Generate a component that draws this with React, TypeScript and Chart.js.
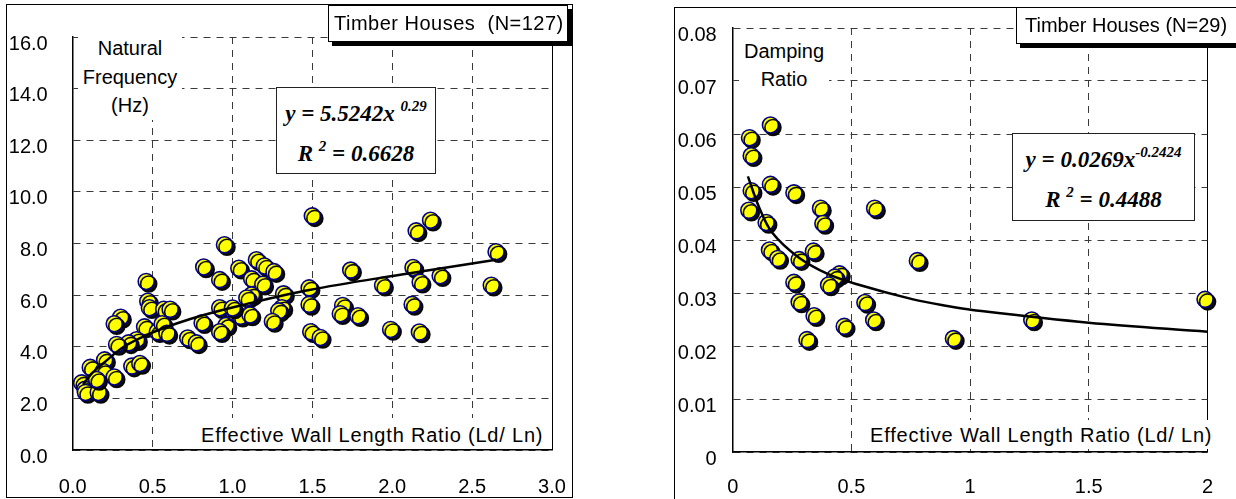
import React, { useEffect, useRef } from 'react';
import { Chart, registerables } from 'chart.js';

Chart.register(...registerables);

const SANS = "'Liberation Sans', Arial, sans-serif";
const SERIF = "'Liberation Serif', 'Times New Roman', serif";

// ---------- Left panel: natural frequency vs effective wall length ratio ----------
const freqX = [
  0.95, 0.82, 0.92, 1.04, 0.46, 0.47, 0.48, 0.57, 0.61, 0.30, 0.26, 0.45, 0.53, 0.56, 0.59, 0.40,
  0.35, 0.275, 0.72, 0.775, 0.81, 0.92, 0.96, 0.92, 1.01, 0.20, 0.11, 0.19, 0.26, 0.37, 0.42, 0.056,
  0.077, 0.08, 0.16, 0.15, 1.50, 1.15, 1.20, 1.26, 1.12, 1.19, 1.12, 1.09, 1.32, 1.31, 1.29, 1.25,
  1.05, 1.11, 1.00, 1.48, 1.48, 1.49, 1.55, 1.74, 1.69, 1.675, 1.785, 1.94, 1.99, 2.24, 2.15, 2.65,
  2.13, 2.30, 2.175, 2.62, 2.125, 2.17,
];
const freqY = [
  7.95, 7.09, 6.60, 7.04, 6.53, 5.76, 5.51, 5.45, 5.45, 5.14, 4.89, 4.77, 4.58, 4.89, 4.52, 4.27,
  4.15, 4.09, 4.34, 4.15, 4.93, 5.51, 4.83, 4.58, 5.33, 3.49, 3.20, 3.04, 2.83, 3.25, 3.35, 2.60,
  2.35, 2.23, 2.23, 2.73, 9.07, 7.37, 7.13, 6.91, 6.63, 6.42, 6.01, 5.89, 6.05, 5.51, 5.39, 4.98,
  5.18, 5.23, 5.50, 6.28, 5.64, 4.58, 4.36, 6.97, 5.60, 5.28, 5.20, 6.38, 4.67, 8.90, 8.49, 7.68,
  7.07, 6.75, 6.50, 6.38, 5.64, 4.57,
];
const freqTrendX = [0.066, 0.12, 0.19, 0.32, 0.48, 0.65, 0.82, 1.05, 1.48, 2.05, 2.65];
const freqTrendY = [2.54, 2.97, 3.35, 4.0, 4.5, 4.9, 5.23, 5.6, 6.2, 6.79, 7.37];
const freqXTickLabels = ['0.0', '0.5', '1.0', '1.5', '2.0', '2.5', '3.0'];
const freqYTickLabels = ['0.0', '2.0', '4.0', '6.0', '8.0', '10.0', '12.0', '14.0', '16.0'];

// ---------- Right panel: damping ratio vs effective wall length ratio ----------
const dampX = [
  0.159, 0.071, 0.078, 0.159, 0.078, 0.258, 0.068, 0.37, 0.38, 0.141, 0.598, 0.155, 0.19, 0.28, 0.34,
  0.45, 0.43, 0.404, 0.258, 0.28, 0.343, 0.313, 0.47, 0.557, 0.594, 0.778, 0.93, 1.26, 1.99,
];
const dampY = [
  0.0617, 0.0593, 0.0559, 0.0505, 0.0493, 0.0489, 0.0456, 0.046, 0.0431, 0.0433, 0.046, 0.0381, 0.0365,
  0.0363, 0.0379, 0.0336, 0.033, 0.0315, 0.032, 0.0283, 0.0257, 0.0212, 0.0237, 0.0282, 0.0249, 0.0361,
  0.0214, 0.0249, 0.0288,
];
const dampTrendX = [0.064, 0.111, 0.166, 0.275, 0.40, 0.52, 0.76, 0.91, 1.01, 1.5, 2.0];
const dampTrendY = [0.052, 0.0462, 0.0414, 0.0368, 0.0336, 0.0317, 0.0288, 0.0275, 0.0268, 0.0244, 0.0227];
const dampXTickLabels = ['0', '0.5', '1', '1.5', '2'];
const dampYTickLabels = ['0', '0.01', '0.02', '0.03', '0.04', '0.05', '0.06', '0.07', '0.08'];

const markerShadow = {
  id: 'markerShadow',
  beforeDatasetDraw(chart: any, args: any) {
    const ds = chart.data.datasets[args.index];
    if (ds.shadow) {
      const c = chart.ctx;
      c.save();
      c.shadowColor = 'rgba(0,0,0,0.95)';
      c.shadowOffsetX = 2.5;
      c.shadowOffsetY = 2.5;
      c.shadowBlur = 0;
    }
  },
  afterDatasetDraw(chart: any, args: any) {
    const ds = chart.data.datasets[args.index];
    if (ds.shadow) chart.ctx.restore();
  },
};

type PanelProps = {
  left: number;
  width: number;
  height: number;
  xs: number[];
  ys: number[];
  tx: number[];
  ty: number[];
  xMax: number;
  xStep: number;
  yMax: number;
  yStep: number;
  xLabels: string[];
  yLabels: string[];
  padLeft: number;
  padRight: number;
  padTop: number;
  yAxisWidth: number;
  xAxisHeight: number;
  yTickPad: number;
  xTickPad: number;
};

function Panel(p: PanelProps) {
  const ref = useRef<HTMLCanvasElement>(null);
  useEffect(() => {
    const isEdge = (c: any, max: number) => c.tick && Math.abs(c.tick.value - max) < 1e-9;
    const chart = new Chart(ref.current as HTMLCanvasElement, {
      type: 'scatter',
      data: {
        datasets: [
          {
            type: 'line',
            data: p.tx.map((x, i) => ({ x, y: p.ty[i] })),
            borderColor: '#000',
            borderWidth: 2.5,
            pointRadius: 0,
            fill: false,
            tension: 0.35,
            clip: false,
          } as any,
          {
            type: 'scatter',
            data: p.xs.map((x, i) => ({ x, y: p.ys[i] })),
            pointRadius: 8,
            pointBorderWidth: 1.6,
            pointBackgroundColor: '#ffff00',
            pointBorderColor: '#000080',
            clip: false,
            shadow: true,
          } as any,
        ],
      },
      options: {
        animation: false,
        responsive: false,
        maintainAspectRatio: false,
        devicePixelRatio: 1,
        events: [],
        layout: { padding: { left: p.padLeft, right: p.padRight, top: p.padTop, bottom: 0 } },
        plugins: { legend: { display: false }, tooltip: { enabled: false } },
        scales: {
          x: {
            type: 'linear',
            position: 'bottom',
            min: 0,
            max: p.xMax,
            afterFit: (s: any) => {
              s.height = p.xAxisHeight;
            },
            ticks: {
              stepSize: p.xStep,
              padding: p.xTickPad,
              color: '#000',
              autoSkip: false,
              maxRotation: 0,
              font: { family: SANS, size: 20 },
              callback: (_v: any, i: number) => p.xLabels[i],
            },
            grid: {
              color: (c: any) => (isEdge(c, p.xMax) ? '#000' : '#3a3a3a'),
              lineWidth: 1,
              drawTicks: false,
            },
            border: {
              display: true,
              color: '#000',
              width: 1.5,
              dash: (c: any) => (isEdge(c, p.xMax) ? [] : [7, 6]),
            },
          } as any,
          y: {
            type: 'linear',
            min: 0,
            max: p.yMax,
            afterFit: (s: any) => {
              s.width = p.yAxisWidth;
            },
            ticks: {
              stepSize: p.yStep,
              padding: p.yTickPad,
              labelOffset: 7,
              color: '#000',
              autoSkip: false,
              font: { family: SANS, size: 20 },
              callback: (_v: any, i: number) => p.yLabels[i],
            },
            grid: { color: '#3a3a3a', lineWidth: 1, drawTicks: false },
            border: { display: true, color: '#000', width: 1.5, dash: [7, 6] },
          } as any,
        },
      },
      plugins: [markerShadow],
    });
    return () => chart.destroy();
  }, []);
  return (
    <canvas
      ref={ref}
      width={p.width}
      height={p.height}
      style={{ position: 'absolute', left: p.left, top: 0, width: p.width, height: p.height }}
    />
  );
}

const sansText: React.CSSProperties = {
  position: 'absolute',
  fontFamily: SANS,
  fontSize: 20,
  color: '#000',
  background: '#fff',
  whiteSpace: 'nowrap',
};

const eqBox: React.CSSProperties = {
  position: 'absolute',
  boxSizing: 'border-box',
  border: '1px solid #222',
  background: '#fff',
  fontFamily: SERIF,
  fontWeight: 'bold',
  fontStyle: 'italic',
  fontSize: 23,
  lineHeight: '38px',
  paddingTop: 7,
  textAlign: 'center',
  whiteSpace: 'nowrap',
  color: '#000',
};

const sup: React.CSSProperties = { fontSize: 15, position: 'relative', top: -10 };

export default function App() {
  return (
    <div
      style={{
        position: 'fixed',
        left: 0,
        top: 0,
        width: 1236,
        height: 499,
        overflow: 'hidden',
        background: '#fff',
      }}
    >
      {/* outer frames */}
      <div
        style={{
          position: 'absolute',
          left: 6,
          top: 4,
          width: 567,
          height: 494,
          boxSizing: 'border-box',
          border: '1.5px solid #000',
        }}
      />
      <div
        style={{
          position: 'absolute',
          left: 674,
          top: 7,
          width: 620,
          height: 620,
          boxSizing: 'border-box',
          border: '1.5px solid #000',
        }}
      />

      <Panel
        left={0}
        width={620}
        height={499}
        xs={freqX}
        ys={freqY}
        tx={freqTrendX}
        ty={freqTrendY}
        xMax={3}
        xStep={0.5}
        yMax={16}
        yStep={2}
        xLabels={freqXTickLabels}
        yLabels={freqYTickLabels}
        padLeft={0}
        padRight={68}
        padTop={20}
        yAxisWidth={72.7}
        xAxisHeight={49}
        yTickPad={25}
        xTickPad={25}
      />
      <Panel
        left={620}
        width={616}
        height={499}
        xs={dampX}
        ys={dampY}
        tx={dampTrendX}
        ty={dampTrendY}
        xMax={2}
        xStep={0.5}
        yMax={0.08}
        yStep={0.01}
        xLabels={dampXTickLabels}
        yLabels={dampYTickLabels}
        padLeft={52.7}
        padRight={13.3}
        padTop={22.7}
        yAxisWidth={60}
        xAxisHeight={47}
        yTickPad={16}
        xTickPad={23}
      />

      {/* left panel annotations */}
      <div style={{ ...sansText, left: 78, top: 34, width: 104, textAlign: 'center', lineHeight: '28.5px', whiteSpace: 'normal' }}>
        Natural
        <br />
        Frequency
        <br />
        (Hz)
      </div>
      <div
        style={{
          ...sansText,
          left: 328,
          top: 5,
          width: 240,
          height: 37,
          boxSizing: 'border-box',
          border: '1px solid #000',
          boxShadow: '4px 4px 0 #000',
          lineHeight: '35px',
          paddingLeft: 5,
          letterSpacing: 0.5,
        }}
      >
        Timber Houses&nbsp;&nbsp;(N=127)
      </div>
      <div style={{ ...eqBox, left: 276, top: 87, width: 160, height: 87 }}>
        <div>
          y = 5.5242x <span style={sup}>0.29</span>
        </div>
        <div>
          R <span style={sup}>2</span> = 0.6628
        </div>
      </div>
      <div style={{ ...sansText, left: 198, top: 418, paddingTop: 4, paddingLeft: 3, paddingRight: 3, lineHeight: '27px', letterSpacing: 0.8 }}>
        Effective Wall Length Ratio (Ld/ Ln)
      </div>

      {/* right panel annotations */}
      <div style={{ ...sansText, left: 739, top: 38, width: 90, textAlign: 'center', lineHeight: '27.5px', whiteSpace: 'normal' }}>
        Damping
        <br />
        Ratio
      </div>
      <div
        style={{
          ...sansText,
          left: 1016,
          top: 7,
          width: 224,
          height: 37,
          boxSizing: 'border-box',
          border: '1px solid #000',
          boxShadow: '4px 4px 0 #000',
          lineHeight: '35px',
          paddingLeft: 8,
        }}
      >
        Timber Houses (N=29)
      </div>
      <div style={{ ...eqBox, left: 1012, top: 133, width: 183, height: 88 }}>
        <div>
          y = 0.0269x<span style={sup}>-0.2424</span>
        </div>
        <div>
          R <span style={sup}>2</span> = 0.4488
        </div>
      </div>
      <div style={{ ...sansText, left: 867, top: 420, paddingTop: 2, paddingLeft: 3, paddingRight: 3, lineHeight: '27px', letterSpacing: 0.8 }}>
        Effective Wall Length Ratio (Ld/ Ln)
      </div>
    </div>
  );
}
